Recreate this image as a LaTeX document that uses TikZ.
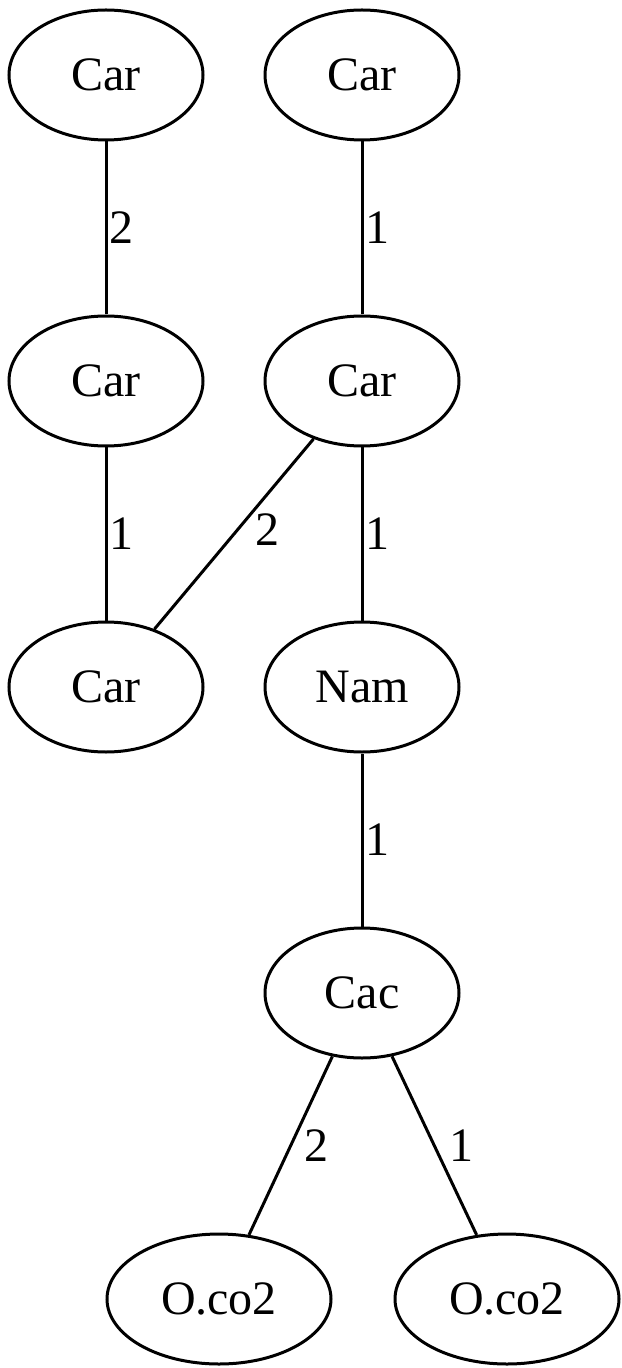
\documentclass[tikz,border=0pt]{standalone}
\usepackage{fontspec}
\setmainfont{Liberation Serif}
\usetikzlibrary{shapes.geometric}
\begin{document}
\begin{tikzpicture}[line width=0.75pt,node distance=76.5pt,
  atom/.style={ellipse,draw,minimum width=48.5pt,minimum height=32.5pt,inner sep=0pt,font=\fontsize{12}{14}\selectfont},
  lbl/.style={inner sep=0.5pt,font=\fontsize{12}{14}\selectfont}]
  \useasboundingbox (-26.5pt,18.75pt) rectangle (128.75pt,-323.25pt);
  \node[atom] (car1) {Car};
  \node[atom] (car2) [right of=car1,node distance=64pt] {Car};
  \node[atom] (car3) [below of=car1] {Car};
  \node[atom] (car4) [below of=car2] {Car};
  \node[atom] (car5) [below of=car3] {Car};
  \node[atom] (nam) [below of=car4] {Nam};
  \node[atom] (cac) [below of=nam] {Cac};
  \node[atom,minimum width=56pt] (oco1) [below of=cac,xshift=-35.75pt] {O.co2};
  \node[atom,minimum width=56pt] (oco2) [below of=cac,xshift=36.25pt] {O.co2};
  % Bonds
  \draw (car1) -- node[lbl,right] {2} (car3);
  \draw (car2) -- node[lbl,right] {1} (car4);
  \draw (car3) -- node[lbl,right] {1} (car5);
  \draw (car4) -- node[lbl,right=4.5pt,yshift=1pt] {2} (car5);
  \draw (car4) -- node[lbl,right] {1} (nam);
  \draw (nam) -- node[lbl,right] {1} (cac);
  % Carboxylate
  \draw (cac) -- node[lbl,right=2.5pt] {2} (oco1);
  \draw (cac) -- node[lbl,right=3pt] {1} (oco2);
\end{tikzpicture}
\end{document}
